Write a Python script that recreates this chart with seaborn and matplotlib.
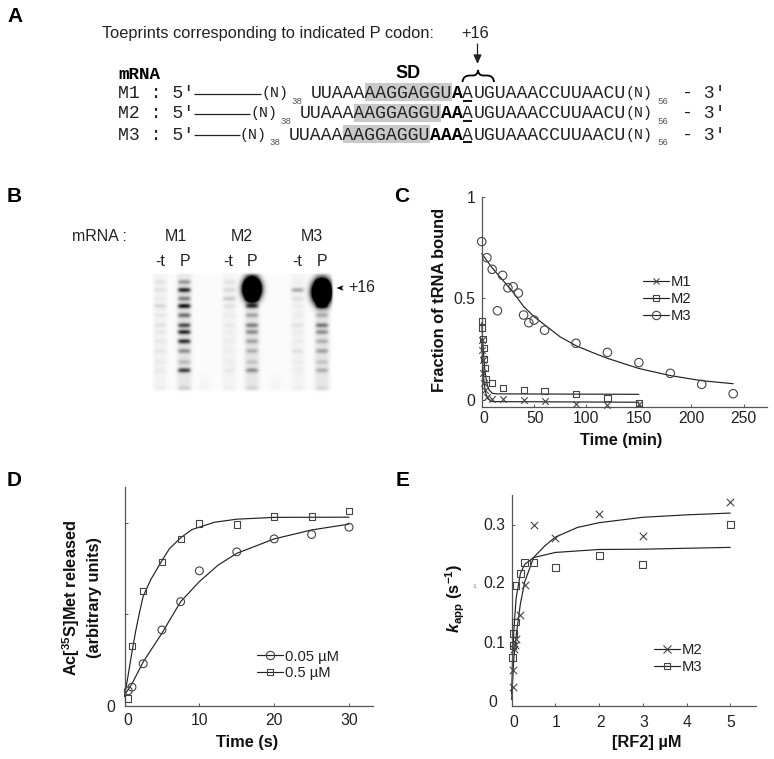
import numpy as np
import pandas as pd
import seaborn as sns
import matplotlib
matplotlib.use("Agg")
import matplotlib.pyplot as plt
from matplotlib.lines import Line2D
from matplotlib.patches import Rectangle, PathPatch
from matplotlib.path import Path
from matplotlib.transforms import ScaledTranslation

# ---------- panel C ----------
c_m3_t = [0, 5, 10, 15, 20, 25, 30, 35, 40, 45, 50, 60, 90, 120, 150, 180, 210, 240]
c_m3_y = [.779, .70, .643, .439, .613, .552, .557, .526, .418, .38, .393, .343, .279, .234, .184, .131, .077, .031]
c_m2_t = [0, .5, 1, 2, 2.5, 3, 4, 10, 20, 40, 60, 90, 120, 150]
c_m2_y = [.39, .355, .30, .255, .20, .157, .103, .085, .058, .05, .045, .03, .01, -.016]
c_m1_t = [0, .5, 1, 1.5, 2, 3, 5, 10, 20, 40, 60, 90, 120, 150]
c_m1_y = [.295, .246, .197, .131, .083, .05, .015, .007, .005, 0, -.006, -.018, -.023, -.02]
c_fit3_t = [0, 10, 20, 30, 40, 50, 60, 75, 90, 105, 120, 150, 180, 210, 240]
c_fit3_y = [.72, .65, .59, .53, .46, .41, .37, .31, .267, .235, .205, .155, .12, .095, .08]
c_fit2_t = [0, 1, 2, 3, 4, 5, 7, 10, 15, 150]
c_fit2_y = [.38, .29, .21, .15, .11, .08, .05, .033, .03, .028]
c_fit1_t = [0, .5, 1, 2, 3, 4, 6, 10, 150]
c_fit1_y = [.30, .23, .175, .10, .06, .03, .005, -.008, -.011]

# ---------- panel D ----------
d_t = [.5, 1, 2.5, 5, 7.5, 10, 15, 20, 25, 30]
d_low_y = [.082, .102, .23, .415, .57, .739, .843, .914, .938, .978]
d_high_y = [.04, .327, .629, .786, .912, .998, .993, 1.037, 1.037, 1.069]
d_fitlow_t = [0, 1, 2.5, 5, 7.5, 10, 12.5, 15, 20, 25, 30]
d_fitlow_y = [.058, .12, .24, .397, .57, .68, .77, .835, .914, .963, .995]
d_fithigh_t = [0, .5, 1, 1.5, 2, 2.5, 3.5, 5, 6, 7.5, 9, 12, 15, 20, 30]
d_fithigh_y = [.05, .17, .295, .41, .51, .60, .69, .795, .86, .92, .965, 1.005, 1.022, 1.032, 1.033]

# ---------- panel E ----------
e_m2_c = [.02, .04, .06, .08, .1, .2, .3, .5, 1, 2, 3, 5]
e_m2_y = [.031, .059, .095, .101, .11, .15, .2, .30, .278, .319, .282, .339]
e_m3_c = [.02, .03, .05, .08, .1, .2, .3, .5, 1, 2, 3, 5]
e_m3_y = [.08, .10, .12, .139, .2, .219, .2385, .2385, .229, .2496, .2346, .3005]
e_fit2_c = [0, .02, .05, .1, .2, .3, .5, .75, 1, 1.5, 2, 3, 4, 5]
e_fit2_y = [.01, .04, .08, .115, .17, .206, .246, .265, .28, .296, .304, .313, .317, .32]
e_fit3_c = [0, .02, .05, .1, .2, .3, .5, 1, 2, 3, 5]
e_fit3_y = [.02, .08, .126, .178, .22, .235, .246, .2546, .2595, .26, .263]

# ---------- panel B gel ----------
band_rows = [10, 18, 26.6, 34, 43.3, 53.3, 60, 69.3, 79, 90, 98.3, 116]
lane_m1_t = [.06, .06, .03, .10, .04, .06, .04, .04, .04, .03, .03, .02]
lane_m1_p = [.30, .72, .38, .80, .45, .58, .72, .68, .32, .16, .62, .10]
lane_m2_t = [.06, .09, .15, .06, .02, .04, .02, .02, .02, .02, .04, .02]
lane_m2_p = [.45, 3.0, .50, .55, .25, .38, .33, .25, .20, .12, .32, .08]
lane_m3_t = [.02, .26, .07, .02, .02, .06, .02, .02, .06, .02, .02, .02]
lane_m3_p = [.45, 3.0, .50, .42, .20, .42, .33, .20, .25, .12, .20, .07]
lane_names = ["-t", "P", "-t", "P", "-t", "P"]
mrna_names = ["M1", "M2", "M3"]

# ---------- panel A text ----------
rows = ["M1", "M2", "M3"]
utr = "UUAAA"
sd = "AAGGAGGU"
spacers = ["A", "AA", "AAA"]
start = "A"
tail = "UGUAAACCUUAACU"

sns.set_theme(style="ticks")
plt.rcParams["font.family"] = ["Liberation Sans", "DejaVu Sans"]
plt.rcParams["mathtext.fontset"] = "custom"
plt.rcParams["mathtext.rm"] = "Liberation Sans:bold"
plt.rcParams["mathtext.bf"] = "Liberation Sans:bold"
plt.rcParams["mathtext.it"] = "Liberation Sans:italic:bold"

W, H = 774, 759
INK = "#222222"
MARK = "#444444"
AXC = "#555555"
FS = 11.3
LFS = 10.6
fig = plt.figure(figsize=(W / 100, H / 100), dpi=100, facecolor="white")

ov = fig.add_axes([0, 0, 1, 1], zorder=5)
ov.set_xlim(0, W)
ov.set_ylim(H, 0)
ov.axis("off")
ov.patch.set_alpha(0)


def axes_px(x0, y0, x1, y1):
    return fig.add_axes([x0 / W, 1 - y1 / H, (x1 - x0) / W, (y1 - y0) / H])


def series(ax, x, y, marker, s, lw=.8):
    df = pd.DataFrame({"x": x, "y": y})
    if marker == "x":
        sns.scatterplot(data=df, x="x", y="y", marker="x", s=s, color=MARK, linewidth=lw, ax=ax,
                        clip_on=False, zorder=3)
    else:
        sns.scatterplot(data=df, x="x", y="y", marker=marker, s=s, color="none", edgecolor=MARK,
                        linewidth=lw, ax=ax, clip_on=False, zorder=3)


def fit(ax, x, y):
    df = pd.DataFrame({"x": x, "y": y})
    sns.lineplot(data=df, x="x", y="y", estimator=None, sort=False, color=INK, linewidth=.85, ax=ax,
                 clip_on=False, zorder=2)


def finish(ax, xlim, ylim, xticks, yticks, ylabels, xpad, ypad, shifts=None, yshifts=None):
    ax.set_xlim(*xlim)
    ax.set_ylim(*ylim)
    sns.despine(ax=ax)
    for sp in ("left", "bottom"):
        ax.spines[sp].set_color(AXC)
        ax.spines[sp].set_linewidth(.9)
    ax.set_xticks(xticks)
    ax.set_xticklabels([str(t) for t in xticks])
    ax.set_yticks(yticks)
    ax.set_yticklabels(ylabels)
    ax.tick_params(axis="x", direction="in", length=2, width=.7, color=AXC, pad=xpad, labelsize=FS, labelcolor=INK)
    ax.tick_params(axis="y", direction="in", length=2, width=.7, color=AXC, pad=ypad, labelsize=FS, labelcolor=INK)
    ax.set_xlabel("")
    ax.set_ylabel("")
    ax.patch.set_alpha(0)
    for lab, dx in zip(ax.get_xticklabels(), shifts or []):
        lab.set_transform(lab.get_transform() + ScaledTranslation(dx / 100, 0, fig.dpi_scale_trans))
    for lab, (dx, dy) in zip(ax.get_yticklabels(), yshifts or []):
        lab.set_transform(lab.get_transform() + ScaledTranslation(dx / 100, dy / 100, fig.dpi_scale_trans))


def legend(ax, handles, x, y, fs=LFS):
    return ax.legend(handles=handles, loc="upper left", bbox_to_anchor=(x / W, 1 - y / H),
                     bbox_transform=fig.transFigure, frameon=False, fontsize=fs, handlelength=1.75,
                     handletextpad=.12, labelspacing=.2, borderpad=0, borderaxespad=0, labelcolor=INK)


def handle(marker, label, ms):
    return Line2D([0], [0], color=INK, lw=.85, marker=marker, ms=ms, mfc="none", mec=MARK, mew=.8, label=label)


# ---------- C ----------
ax = axes_px(481.7, 196.7, 766.7, 406.7)
fit(ax, c_fit3_t, c_fit3_y)
fit(ax, c_fit2_t, c_fit2_y)
fit(ax, c_fit1_t, c_fit1_y)
series(ax, c_m3_t, c_m3_y, "o", 37)
series(ax, c_m2_t, c_m2_y, "s", 20)
series(ax, c_m1_t, c_m1_y, "x", 22)
finish(ax, (0, 272), (-.033, 1), [0, 50, 100, 150, 200, 250], [0, .5, 1], ["0", "0.5", "1"], 3.4, 4.5,
       shifts=[2.3, 1, 0, 0, 0, 0])
legend(ax, [handle("x", "M1", 5), handle("s", "M2", 4.6), handle("o", "M3", 6)], 643, 275.5)

# ---------- D ----------
ax = axes_px(124.5, 486.7, 373, 705.7)
fit(ax, d_fitlow_t, d_fitlow_y)
fit(ax, d_fithigh_t, d_fithigh_y)
series(ax, d_t, d_low_y, "o", 32)
series(ax, d_t, d_high_y, "s", 20)
finish(ax, (0, 33.2), (0, 1.2), [0, 10, 20, 30], [0, .5, 1], ["0", "", ""], 5, 7, shifts=[3.7, 0, 0, 0])
legend(ax, [handle("o", "0.05 µM", 6), handle("s", "0.5 µM", 4.6)], 257, 649.5)

# ---------- E ----------
ax = axes_px(511.7, 495, 756, 705.7)
fit(ax, e_fit2_c, e_fit2_y)
fit(ax, e_fit3_c, e_fit3_y)
series(ax, e_m3_c, e_m3_y, "s", 24)
series(ax, e_m2_c, e_m2_y, "x", 28)
finish(ax, (0, 5.59), (0, .35), [0, 1, 2, 3, 4, 5], [0, .1, .2, .3], ["0", "0.1", "0.2", "0.3"], 6.7, 4.8,
       shifts=[2.3, 1, 1, 1, 1, 1], yshifts=[(-8, 5), (0, 4), (0, 3.5), (0, 1.5)])
for tk in ax.yaxis.get_major_ticks()[:3]:
    tk.tick1line.set_visible(False)
for tk in ax.xaxis.get_major_ticks()[:1]:
    tk.tick1line.set_visible(False)
legend(ax, [handle("x", "M2", 5.4), handle("s", "M3", 4.8)], 654, 643.5)

# ---------- axis titles (bold, in figure pixels) ----------
tb = dict(fontweight="bold", fontsize=11.8, color="#111111", ha="center", va="center")
ov.text(439, 300, "Fraction of tRNA bound", rotation=90, **tb)
ov.text(621, 441, "Time (min)", **tb)
ov.text(71, 598, r"Ac[$^{\mathbf{35}}$S]Met released", rotation=90, **tb)
ov.text(94, 598, "(arbitrary units)", rotation=90, **tb)
ov.text(247, 742, "Time (s)", **tb)
ov.text(455, 598, r"$\mathit{k}_{\mathbf{app}}$ (s$^{\mathbf{-1}}$)", rotation=90, **tb)
ov.text(647, 742.5, "[RF2] µM", **tb)
ov.text(475, 587, "-1", fontsize=3.5, color="#666666", ha="center", va="center")

# ---------- panel letters ----------
for letter, x, y in [("A", 15, 16), ("B", 14, 196), ("C", 402, 196), ("D", 14, 481), ("E", 403, 481)]:
    ov.text(x, y, letter, fontsize=15, fontweight="bold", color="black", ha="center", va="center")

# ---------- panel A ----------
ov.text(101.5, 33.5, "Toeprints corresponding to indicated P codon:", fontsize=11.75, color=INK, va="center")
ov.text(475, 33.5, "+16", fontsize=11.75, color=INK, va="center", ha="center")
ov.annotate("", xy=(477.5, 64), xytext=(477.5, 44),
            arrowprops=dict(arrowstyle="-|>,head_width=.2,head_length=.45", color=INK, lw=.9, shrinkA=0, shrinkB=0))
brace = Path([(462.5, 82), (463, 75.5), (470, 75.5), (473, 75.5), (477.5, 75.5), (478, 70), (478.5, 75.5), (483, 75.5),
              (487, 75.5), (493.5, 75.5), (494, 82)],
             [Path.MOVETO, Path.CURVE3, Path.CURVE3, Path.LINETO, Path.CURVE3, Path.CURVE3, Path.CURVE3, Path.CURVE3,
              Path.LINETO, Path.CURVE3, Path.CURVE3])
ov.add_patch(PathPatch(brace, fc="none", ec="black", lw=1.3))

MONO = "Liberation Mono"
SFS = 13.03
NFS = 10.8
pitch = 10.86
ov.text(118.5, 74.5, "mRNA", family=MONO, fontweight="bold", fontsize=12.6, color="black", va="center")
ov.text(408.5, 73, "SD", fontweight="bold", fontsize=13, color="black", va="center", ha="center")
row_y = [93.5, 113.5, 135]
start_x = 462.5
gray_h = [(83.3, 100.7), (104, 121.7), (125, 143.3)]
line_end = [261, 250, 240]
for i, name in enumerate(rows):
    y = row_y[i]
    sp = spacers[i]
    sp_x = start_x - pitch * len(sp)
    sd_x = sp_x - pitch * len(sd)
    u_x = sd_x - pitch * len(utr)
    ov.add_patch(Rectangle((sd_x, gray_h[i][0]), pitch * len(sd), gray_h[i][1] - gray_h[i][0], fc="#c9c9c9", ec="none"))
    mono = dict(family=MONO, fontsize=SFS, color=INK, va="center")
    ov.text(118.5, y, f"{name} : 5'", **mono)
    ov.plot([193.5, line_end[i]], [y, y], color=INK, lw=.9, solid_capstyle="butt")
    ov.text(u_x - 49, y, "(N)", family=MONO, fontsize=NFS, color=INK, va="center")
    ov.text(u_x - 19, y + 7.5, "38", family=MONO, fontsize=6.6, color="#555555", va="center")
    ov.text(u_x, y, utr + sd, **mono)
    ov.text(sp_x, y, sp, family=MONO, fontsize=SFS, fontweight="bold", color="black", va="center")
    ov.text(start_x, y, start, **mono)
    ov.plot([start_x, start_x + pitch - 1], [y + 7, y + 7], color="black", lw=1.3, solid_capstyle="butt")
    ov.text(start_x + pitch, y, tail, **mono)
    ov.text(626, y, "(N)", family=MONO, fontsize=NFS, color=INK, va="center")
    ov.text(657, y + 7.5, "56", family=MONO, fontsize=6.6, color="#555555", va="center")
    ov.text(682, y, "- 3'", **mono)

# ---------- panel B ----------
gx0, gx1, gy0, gy1 = 150.7, 334, 271.7, 393
nx, ny = int(gx1 - gx0), int(gy1 - gy0)
xx, yy = np.meshgrid(np.arange(nx) + .5, np.arange(ny) + .5)
gel = np.full((ny, nx), .018)
lanes = [lane_m1_t, lane_m1_p, lane_m2_t, lane_m2_p, lane_m3_t, lane_m3_p]
centers = [9.3, 33.3, 78.3, 101, 146.6, 171]
for j, (lane, cx) in enumerate(zip(lanes, centers)):
    is_p = lane_names[j] == "P"
    gel += (.09 if is_p else .035) * np.exp(-((xx - cx) / (7.5 if is_p else 7)) ** 4) * np.exp(-((yy - 60) / 66) ** 8)
    for by, amp in zip(band_rows, lane):
        if amp > 1:
            big = 1.08 if j == 5 else 1
            dx = (xx - cx) / (8.8 * big)
            dy = (yy - by - (2 if j == 5 else -1)) / (11.5 * big)
            gel += amp * np.exp(-(dx ** 2 + dy ** 2) ** 1.3)
        else:
            gel += amp * np.exp(-((xx - cx) / 6.3) ** 4) * np.exp(-((yy - by) / 2.4) ** 2)
for xb in [54, 124]:
    gel += .025 * np.exp(-((xx - xb) / 6) ** 4) * np.exp(-((yy - 112) / 8) ** 2)
fade = np.clip(yy / 3, 0, 1) * np.clip((ny - yy) / 4, 0, 1) * np.clip(xx / 3, 0, 1) * np.clip((nx - xx) / 3, 0, 1)
gel = np.clip(gel * fade, 0, 1)
ax_gel = axes_px(gx0, gy0, gx0 + nx, gy0 + ny)
sns.heatmap(gel, cmap="gray_r", vmin=0, vmax=1, cbar=False, xticklabels=False, yticklabels=False, ax=ax_gel)

GFS = 11.5
ov.text(72.5, 236.7, "mRNA :", fontsize=GFS, color=INK, va="center")
for name, x in zip(mrna_names, [175.7, 241.7, 311.7]):
    ov.text(x, 236.7, name, fontsize=GFS, color=INK, ha="center", va="center")
for name, x in zip(lane_names, [160, 185, 228, 252, 297, 322]):
    ov.text(x, 261.7, name, fontsize=GFS, color=INK, ha="center", va="center")
ov.add_patch(plt.Polygon([[336.5, 288], [343.5, 285.2], [341.8, 288], [343.5, 290.8]], fc="black", ec="none"))
ov.text(348, 288, "+16", fontsize=GFS, color=INK, va="center")

fig.savefig("out.png", dpi=100, facecolor="white")
